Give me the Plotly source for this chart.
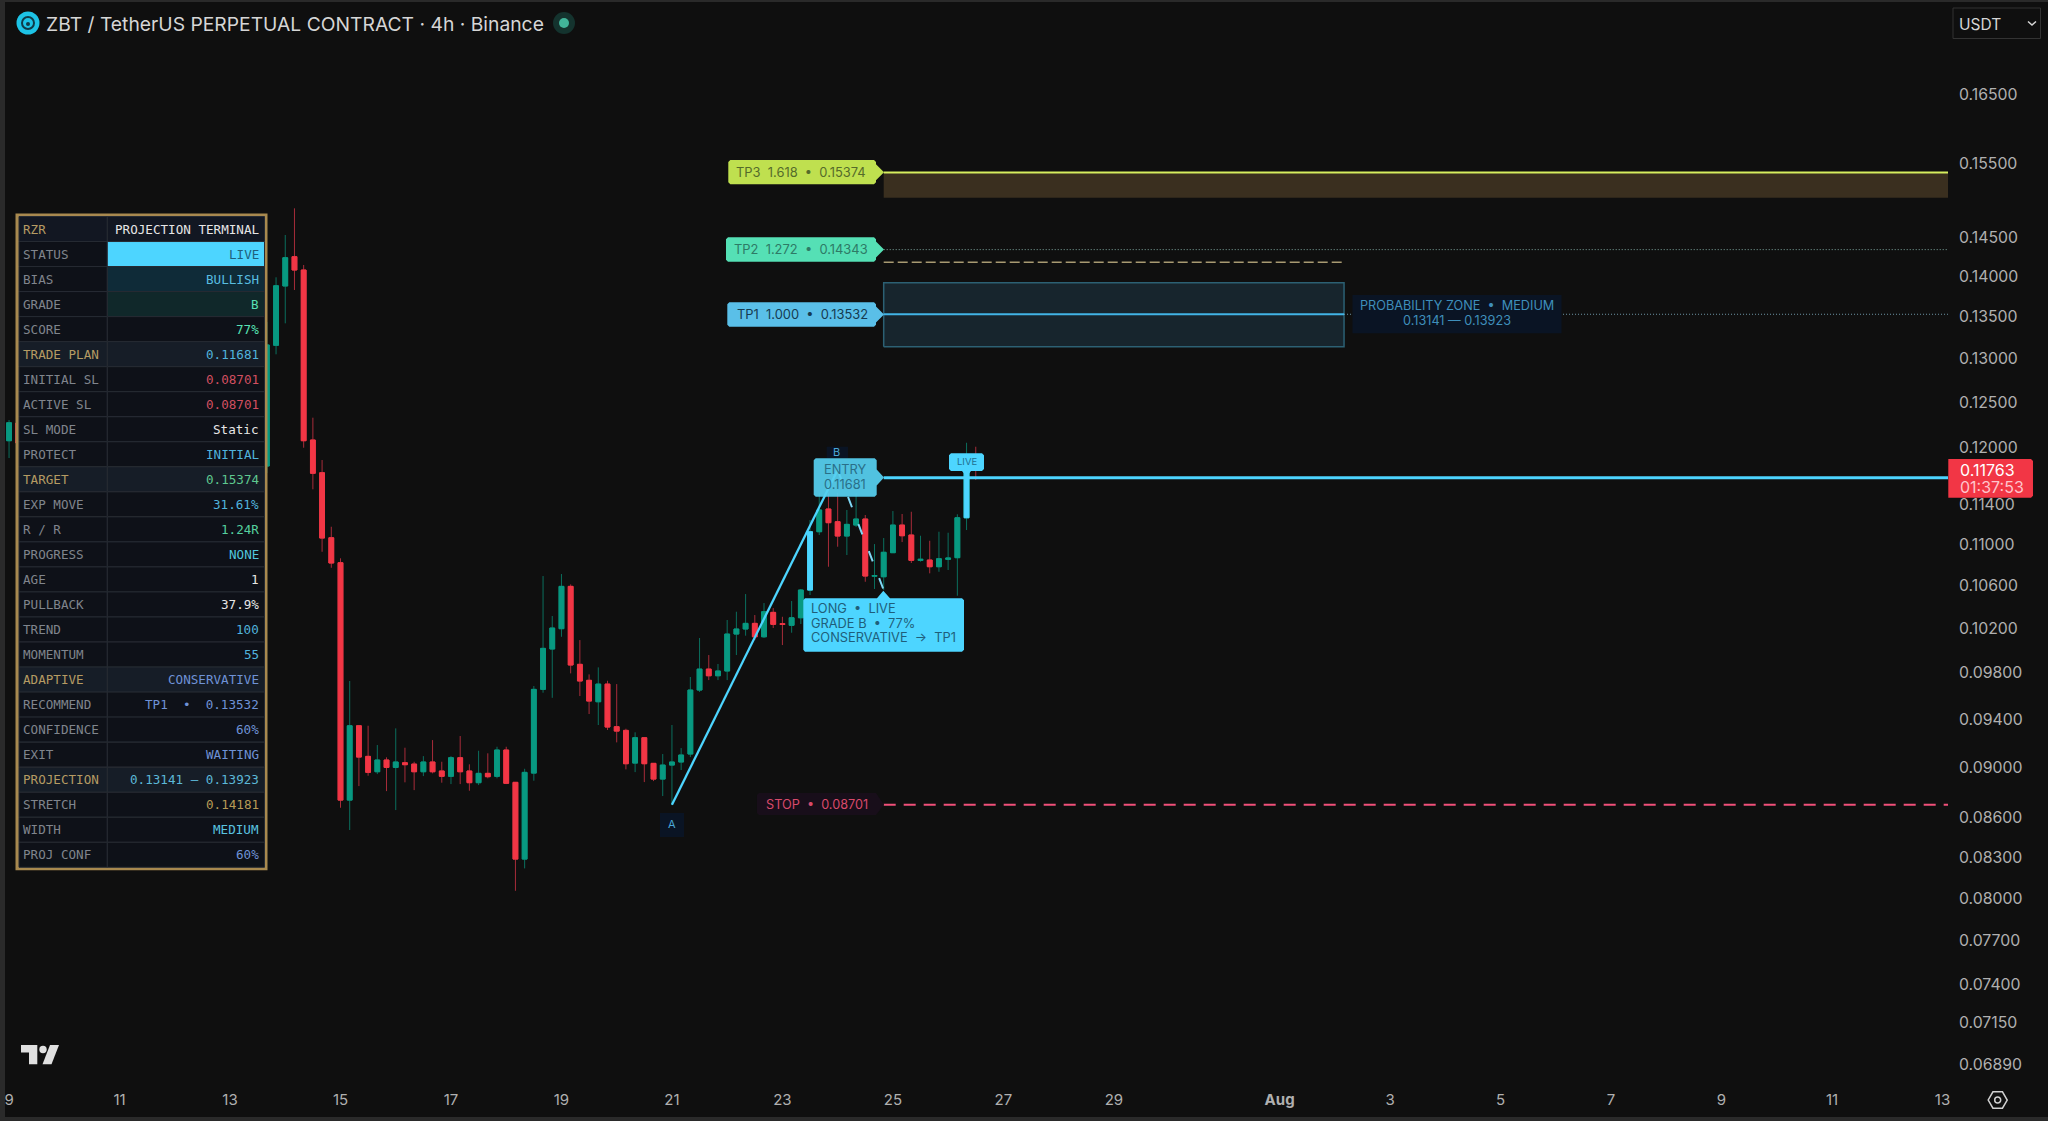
import math
import pandas as pd
import plotly.graph_objects as go

W, H = 2048, 1121
PLOT_W, PLOT_H = 1948, 1088
BG = "#0f0f0f"
BLUE = "#4dd5ff"

# 4h candles, the ones between the two ranges sit behind the table
dates = list(pd.date_range("2025-07-09 00:00", periods=2, freq="4h")) + list(pd.date_range("2025-07-13 16:00", periods=78, freq="4h"))
opens = [0.12076, 0.12270, 0.11804, 0.13159, 0.13881, 0.14252, 0.14082, 0.12084, 0.11733, 0.11066, 0.10820, 0.08738, 0.09343, 0.09089, 0.08964, 0.09059,
         0.08999, 0.09037, 0.09026, 0.08964, 0.09043, 0.08970, 0.08927, 0.09078, 0.08970, 0.08876, 0.08951, 0.08927, 0.09141, 0.08879, 0.08286, 0.08953,
         0.09654, 0.10011, 0.10196, 0.10592, 0.09874, 0.09733, 0.09547, 0.09700, 0.09335, 0.09304, 0.09034, 0.09243, 0.09032, 0.08905, 0.09018, 0.09043,
         0.09108, 0.09648, 0.09832, 0.09773, 0.09815, 0.10147, 0.10193, 0.10245, 0.10122, 0.10347, 0.10242, 0.10227, 0.10297, 0.10557, 0.11126, 0.11356,
         0.11227, 0.11083, 0.11193, 0.11254, 0.10689, 0.10684, 0.10918, 0.11193, 0.11093, 0.10843, 0.10846, 0.10781, 0.10853, 0.10869, 0.11267, 0.11793]
highs = [0.12303, 0.12303, 0.13438, 0.13990, 0.14533, 0.14886, 0.14146, 0.12329, 0.11868, 0.11176, 0.10863, 0.09727, 0.09343, 0.09343, 0.09182, 0.09081,
         0.09321, 0.09160, 0.09045, 0.09091, 0.09223, 0.09045, 0.09091, 0.09257, 0.09024, 0.09135, 0.09114, 0.09168, 0.09168, 0.08879, 0.08988, 0.09683,
         0.10691, 0.10313, 0.10710, 0.10611, 0.10092, 0.09785, 0.09847, 0.09729, 0.09700, 0.09318, 0.09288, 0.09243, 0.09032, 0.09108, 0.09349, 0.09157,
         0.09762, 0.10111, 0.09957, 0.09877, 0.10276, 0.10353, 0.10519, 0.10322, 0.10434, 0.10387, 0.10306, 0.10453, 0.10567, 0.11244, 0.11520, 0.11520,
         0.11520, 0.11346, 0.11520, 0.11295, 0.11003, 0.11063, 0.11335, 0.11305, 0.11328, 0.11086, 0.11036, 0.11126, 0.11116, 0.11302, 0.12054, 0.12011]
lows = [0.11889, 0.12008, 0.11730, 0.13053, 0.13422, 0.13831, 0.12000, 0.11559, 0.10927, 0.10771, 0.08678, 0.08506, 0.08849, 0.08932, 0.08945, 0.08809,
        0.08660, 0.08879, 0.08817, 0.08929, 0.08951, 0.08876, 0.08865, 0.08865, 0.08812, 0.08857, 0.08911, 0.08911, 0.08865, 0.08053, 0.08217, 0.08892,
        0.09625, 0.09581, 0.10122, 0.09794, 0.09596, 0.09442, 0.09349, 0.09307, 0.09204, 0.08983, 0.08961, 0.08881, 0.08889, 0.08770, 0.08699, 0.08978,
        0.09083, 0.09631, 0.09735, 0.09735, 0.09735, 0.09957, 0.10132, 0.10092, 0.10111, 0.10202, 0.10047, 0.10159, 0.10239, 0.10510, 0.11093, 0.10781,
        0.10977, 0.10895, 0.11173, 0.10636, 0.10567, 0.10557, 0.10915, 0.11023, 0.10817, 0.10830, 0.10717, 0.10732, 0.10749, 0.10503, 0.11143, 0.11656]
closes = [0.12273, 0.12051, 0.13163, 0.13884, 0.14239, 0.14082, 0.12076, 0.11727, 0.11063, 0.10817, 0.08738, 0.09343, 0.09083, 0.08959, 0.09059, 0.08999,
          0.09043, 0.09021, 0.08964, 0.09043, 0.08964, 0.08927, 0.09078, 0.08964, 0.08876, 0.08951, 0.08924, 0.09141, 0.08871, 0.08286, 0.08959, 0.09654,
          0.10017, 0.10202, 0.10592, 0.09868, 0.09727, 0.09553, 0.09700, 0.09332, 0.09298, 0.09029, 0.09243, 0.09029, 0.08905, 0.09018, 0.09043, 0.09100,
          0.09648, 0.09832, 0.09773, 0.09815, 0.10147, 0.10193, 0.10245, 0.10122, 0.10353, 0.10236, 0.10235, 0.10297, 0.10557, 0.11126, 0.11346, 0.11217,
          0.11083, 0.11200, 0.11254, 0.10691, 0.10696, 0.10922, 0.11193, 0.11086, 0.10843, 0.10853, 0.10781, 0.10859, 0.10866, 0.11267, 0.11763, 0.11763]

# the two signal candles painted blue
signal_dates = ["2025-07-23 12:00", "2025-07-26 08:00"]
signal_opens = [0.10557, 0.11267]
signal_closes = [0.11126, 0.11763]

tp3, tp3_floor = 0.15374, 0.15030
tp2, stretch = 0.14343, 0.14181
tp1, proj_low, proj_high = 0.13532, 0.13141, 0.13923
entry, stop, last, swing_c = 0.11681, 0.08701, 0.11763, 0.10557

level_start = "2025-07-24 20:00"
zone_end = "2025-08-02 04:00"
x_begin = "2025-07-08 20:04"
x_end = "2025-08-13 02:24"
point_a = "2025-07-21 00:00"
point_b = "2025-07-24 00:00"

price_ticks = [0.165, 0.155, 0.145, 0.14, 0.135, 0.13, 0.125, 0.12, 0.114, 0.11, 0.106, 0.102, 0.098, 0.094, 0.09, 0.086,
               0.083, 0.08, 0.077, 0.074, 0.0715, 0.0689]
date_ticks = ["2025-07-09", "2025-07-11", "2025-07-13", "2025-07-15", "2025-07-17", "2025-07-19", "2025-07-21", "2025-07-23",
              "2025-07-25", "2025-07-27", "2025-07-29", "2025-08-01", "2025-08-03", "2025-08-05", "2025-08-07", "2025-08-09",
              "2025-08-11", "2025-08-13"]
date_labels = ["9", "11", "13", "15", "17", "19", "21", "23", "25", "27", "29", "<b>Aug</b>", "3", "5", "7", "9", "11", "13"]

table_labels = ["RZR", "STATUS", "BIAS", "GRADE", "SCORE", "TRADE PLAN", "INITIAL SL", "ACTIVE SL", "SL MODE", "PROTECT",
                "TARGET", "EXP MOVE", "R / R", "PROGRESS", "AGE", "PULLBACK", "TREND", "MOMENTUM", "ADAPTIVE", "RECOMMEND",
                "CONFIDENCE", "EXIT", "PROJECTION", "STRETCH", "WIDTH", "PROJ CONF"]
table_values = ["PROJECTION TERMINAL", "LIVE", "BULLISH", "B", "77%", "0.11681", "0.08701", "0.08701", "Static", "INITIAL",
                "0.15374", "31.61%", "1.24R", "NONE", "1", "37.9%", "100", "55", "CONSERVATIVE", "TP1  •  0.13532",
                "60%", "WAITING", "0.13141 — 0.13923", "0.14181", "MEDIUM", "60%"]
value_colors = ["#e6e6e6", "#1f5f7c", "#58bde0", "#57e0b4", "#57e0b4", "#51b3dc", "#d24f60", "#d24f60", "#e6e6e6", "#51b3dc",
                "#5ec88f", "#51b3dc", "#55cf9e", "#51c6dc", "#e6e6e6", "#e6e6e6", "#51b3dc", "#51b3dc", "#6f92d6", "#6f92d6",
                "#6f92d6", "#6f92d6", "#5cb8d8", "#b79a55", "#5ac4e0", "#6f92d6"]
section_rows = ["RZR", "TRADE PLAN", "TARGET", "ADAPTIVE", "PROJECTION"]
value_fills = {"STATUS": BLUE, "BIAS": "#0f2b38", "GRADE": "#10282a"}


def X(px):
    return px / PLOT_W


def Y(py):
    return 1 - py / PLOT_H


shapes = []
annotations = []


def rect(x0, y0, x1, y1, fill, line=None, lw=0):
    shapes.append(dict(type="rect", xref="paper", yref="paper", x0=X(x0), x1=X(x1), y0=Y(y0), y1=Y(y1),
                       fillcolor=fill, line=dict(color=line or fill, width=lw), layer="above"))


def path(pts, fill, line=None, lw=0, opacity=1, close=True):
    d = "M " + " L ".join(f"{X(a):.5f},{Y(b):.5f}" for a, b in pts) + (" Z" if close else "")
    shapes.append(dict(type="path", xref="paper", yref="paper", path=d, fillcolor=fill,
                       line=dict(color=line or fill, width=lw), layer="above", opacity=opacity))


def text(x, y, s, color, size, anchor="left", family="Inter"):
    annotations.append(dict(xref="paper", yref="paper", x=X(x), y=Y(y), text=s.replace("  ", "\u00a0\u00a0"), showarrow=False,
                            xanchor=anchor, yanchor="middle", borderpad=0, font=dict(family=family, size=size, color=color)))


def circle(cx, cy, r, fill, line=None, lw=0):
    shapes.append(dict(type="circle", xref="paper", yref="paper", x0=X(cx - r), x1=X(cx + r), y0=Y(cy - r), y1=Y(cy + r),
                       fillcolor=fill, line=dict(color=line or fill, width=lw), layer="above"))


def tag_right(x0, y0, x1, y1, tip, fill, opacity=1):
    yc = (y0 + y1) / 2
    path([(x0 + 2, y0), (x1 - 2, y0), (x1, y0 + 2), (x1, yc - 8), (tip, yc), (x1, yc + 8), (x1, y1 - 2), (x1 - 2, y1),
          (x0 + 2, y1), (x0, y1 - 2), (x0, y0 + 2)], fill, opacity=opacity)


def candles(x, o, h, l, c, up, down):
    return go.Candlestick(x=x, open=o, high=h, low=l, close=c, whiskerwidth=0, showlegend=False, hoverinfo="skip",
                          increasing=dict(line=dict(color=up, width=1), fillcolor=up),
                          decreasing=dict(line=dict(color=down, width=1), fillcolor=down))


fig = go.Figure()
# wicks are dimmer than bodies, so they get their own trace underneath
fig.add_trace(candles(dates, opens, highs, lows, closes, "#0b6f5e", "#a82c3a"))
body_top = [max(a, b) for a, b in zip(opens, closes)]
body_bot = [min(a, b) for a, b in zip(opens, closes)]
fig.add_trace(candles(dates, opens, body_top, body_bot, closes, "#089981", "#f23645"))
fig.add_trace(candles(signal_dates, signal_opens, signal_closes, signal_opens, signal_closes, BLUE, BLUE))


def zone(x0, x1, lo, hi, fill, line=None):
    fig.add_trace(go.Scatter(x=[x0, x1, x1, x0, x0], y=[lo, lo, hi, hi, lo], mode="lines", fill="toself", fillcolor=fill,
                             line=dict(color=line or fill, width=1.5 if line else 0), showlegend=False, hoverinfo="skip"))


def level(x0, x1, y0, y1, color, width, dash="solid"):
    fig.add_trace(go.Scatter(x=[x0, x1], y=[y0, y1], mode="lines", line=dict(color=color, width=width, dash=dash),
                             showlegend=False, hoverinfo="skip"))


zone(level_start, x_end, tp3_floor, tp3, "#3a2f1f")
zone(level_start, zone_end, proj_low, proj_high, "#17252d", "#2c6073")
level(level_start, x_end, tp3, tp3, "#d6ee5e", 2)
level(level_start, x_end, tp2, tp2, "#7fa8a0", 1, "1px,2px")
level(level_start, zone_end, stretch, stretch, "#a89a72", 1.5, "10px,4px")
level(level_start, zone_end, tp1, tp1, "#42b4e6", 2)
level(zone_end, x_end, tp1, tp1, "#6f97a8", 1, "1px,2px")
level(level_start, x_end, entry, entry, BLUE, 3)
level(level_start, x_end, stop, stop, "#f0507a", 2, "12px,8px")
level(point_a, point_b, stop, last, BLUE, 2.3)
level(point_b, level_start, last, swing_c, "#7fd8f5", 2, "11px,18px")

# table
T_X0, T_X1, T_SPLIT, T_Y0, T_ROW = 19, 264.5, 107.3, 216.5, 25.03
rect(15.5, 213.5, 267.5, T_Y0 + 26 * T_ROW + 3, "#a8894f")
for n, (lab, val, col) in enumerate(zip(table_labels, table_values, value_colors)):
    y0, y1 = T_Y0 + n * T_ROW, T_Y0 + (n + 1) * T_ROW
    sec = lab in section_rows
    fill = "#121722" if lab == "RZR" else ("#161d27" if sec else "#0e1118")
    rect(T_X0, y0, T_SPLIT, y1, fill, "#262b33", 1)
    rect(T_SPLIT, y0, T_X1, y1, value_fills.get(lab, fill), "#262b33", 1)
    text(22, (y0 + y1) / 2, lab, "#b59b63" if sec else "#80858d", 12.6, family="DejaVu Sans Mono")
    text(260, (y0 + y1) / 2, val, col, 12.6, "right", "DejaVu Sans Mono")

# level labels
tag_right(728.3, 160, 876, 184.3, 884, "#bfe04f")
text(735, 172.3, "TP3  1.618  •  0.15374", "#556b2a", 12.9)
tag_right(726, 237.3, 876, 261.7, 884, "#55e0b5")
text(733, 249.5, "TP2  1.272  •  0.14343", "#2e7a66", 12.9)
tag_right(727.3, 302.3, 876, 326.7, 884, "#5abfe8")
text(736, 314.5, "TP1  1.000  •  0.13532", "#153a50", 12.9)
rect(1352.5, 295, 1561.5, 333.3, "#0a1424")
text(1457, 305.7, "PROBABILITY ZONE  •  MEDIUM", "#3f8fbb", 12.7, "center")
text(1457, 320.7, "0.13141 — 0.13923", "#3f8fbb", 12.7, "center")

# signal labels
rect(826.7, 446.7, 848, 458, "#0a1424")
text(836.7, 452, "B", "#4aa8d8", 11, "center")
rect(660, 813, 684, 837, "#0a1424")
text(671.5, 823.5, "A", "#4aa8d8", 11, "center")
tag_right(813.7, 458.3, 876.7, 496.7, 884, "#56d0f0", opacity=0.93)
text(845, 469.3, "ENTRY", "#2a6f88", 12.8, "center")
text(845, 484, "0.11681", "#2a6f88", 12.8, "center")
path([(805, 598.3), (877, 598.3), (883.3, 590.7), (890, 598.3), (962, 598.3), (964, 600.3), (964, 649.7), (962, 651.7),
      (805, 651.7), (803.3, 649.7), (803.3, 600.3)], BLUE)
text(810, 608.3, "LONG  •  LIVE", "#1f5e7a", 12.8)
text(810, 623.3, "GRADE B  •  77%", "#1f5e7a", 12.8)
text(810, 637.7, "CONSERVATIVE  →  TP1", "#1f5e7a", 12.8)
path([(951, 453.3), (982, 453.3), (984, 455.3), (984, 469), (982, 471), (971, 471), (966.7, 476.7), (962, 471), (951, 471),
      (949, 469), (949, 455.3)], BLUE)
text(966.5, 462, "LIVE", "#1f6f8f", 9.5, "center")
path([(759, 793), (876, 793), (884, 804.8), (876, 815), (759, 815), (757, 813), (757, 795)], "#180e1a")
text(765, 804, "STOP  •  0.08701", "#d84a6a", 12.7)

# price box
path([(1948.3, 459), (2031, 459), (2033, 461), (2033, 495.7), (2031, 497.7), (1948.3, 497.7)], "#f23645")
text(1958.5, 470, "0.11763", "#ffffff", 16)
text(1958.5, 487, "01:37:53", "#ffc4cb", 16)

# frame and header
rect(0, 0, W, 2, "#2a2a2a")
rect(0, 0, 5, H, "#2a2a2a")
rect(0, 1117, W, H, "#2a2a2a")
circle(28, 23, 11.5, "#1dc3e6")
circle(28, 23, 6, "#1dc3e6", "#0f3a48", 2)
circle(28, 24, 2, "#0f3a48")
text(44.5, 24, "ZBT / TetherUS PERPETUAL CONTRACT · 4h · Binance", "#d6d6d6", 19.3)
circle(564, 23, 11, "#14332e")
circle(564, 23, 5, "#42b59a")
rect(1953, 8, 2040.5, 38.5, BG, "#333333", 1)
text(1957.5, 24, "USDT", "#d6d6d6", 15.5)
path([(2028, 21.5), (2032, 25), (2036, 21.5)], "rgba(0,0,0,0)", "#d6d6d6", 1.5, close=False)

# logo and settings icon
path([(21, 1045), (37.3, 1045), (37.3, 1064.3), (29, 1064.3), (29, 1052.5), (21, 1052.5)], "#e0e0e0")
circle(43, 1049.5, 3.7, "#e0e0e0")
path([(50, 1045), (59, 1045), (51.5, 1064.3), (42.5, 1064.3)], "#e0e0e0")
hex_r = 9.5
path([(1997.7 + hex_r * math.cos(a * math.pi / 3), 1100 + hex_r * math.sin(a * math.pi / 3)) for a in range(6)],
     "rgba(0,0,0,0)", "#d0d0d0", 1.5)
circle(1997.7, 1100, 3, "rgba(0,0,0,0)", "#d0d0d0", 1.5)

fig.update_layout(width=W, height=H, margin=dict(l=0, r=W - PLOT_W, t=0, b=H - PLOT_H), autosize=False,
                  paper_bgcolor=BG, plot_bgcolor=BG, showlegend=False, boxgap=0.25, shapes=shapes, annotations=annotations,
                  xaxis=dict(type="date", range=[x_begin, x_end], tickvals=date_ticks, ticktext=date_labels, showgrid=False,
                             zeroline=False, showline=False, ticks="", rangeslider=dict(visible=False), ticklabelstandoff=1,
                             tickfont=dict(family="Inter", size=15, color="#b0b0b0")),
                  yaxis=dict(type="log", side="right", range=[math.log10(0.06743), math.log10(0.17957)], tickvals=price_ticks,
                             ticktext=[f"{v:.5f}" for v in price_ticks], showgrid=False, zeroline=False, showline=False, ticks="",
                             ticklabelstandoff=10, tickfont=dict(family="Inter", size=15.8, color="#b0b0b0")))
# the page has a default 8px body margin, drop it so the chart fills the window
fig.write_html("out.html", config={"displayModeBar": False},
               post_script="document.body.style.margin='0';document.body.style.overflow='hidden';document.body.style.background='#0f0f0f';")
